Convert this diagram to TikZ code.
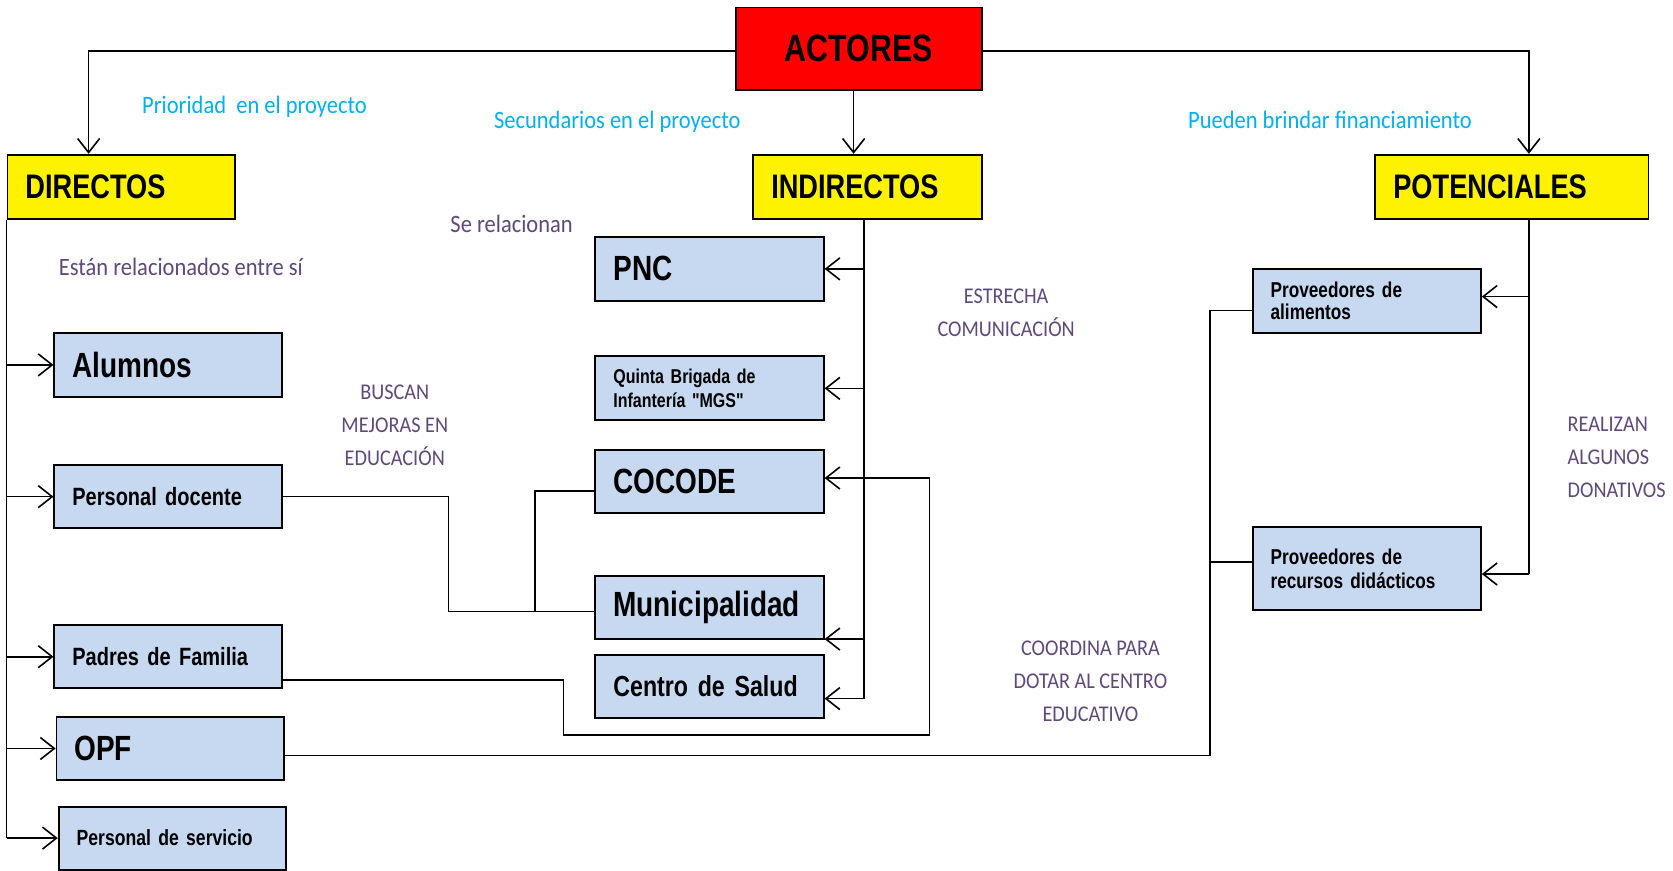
\documentclass[tikz,border=0pt]{standalone}
\usepackage{fontspec}
\setmainfont{Liberation Sans}
\newfontfamily\boxfont[FakeStretch=0.8]{Liberation Sans}
\newfontfamily\labfont[FakeStretch=0.9]{Carlito}
\usetikzlibrary{arrows.meta}
\definecolor{boxblue}{HTML}{C6D9F1}
\definecolor{cyanlab}{HTML}{00B0F0}
\definecolor{purplab}{HTML}{5F497A}
\newcommand\fs[2]{\fontsize{#1}{#2}\selectfont}
\begin{document}
\begin{tikzpicture}[x=1.06696pt, y=-1.06696pt,
  box/.style={draw=black, line width=1.8pt, fill=boxblue, inner xsep=18pt, inner ysep=0pt, align=left},
  bsize/.style 2 args={font=\boxfont\bfseries\fs{#1}{#2}},
  head/.style={box, fill=yellow},
  con/.style={line width=1.6pt},
  arr/.style={con, -{Straight Barb[length=14pt,width=22pt]}},
  cyanl/.style={text=cyanlab, font=\labfont\fs{25}{30}},
  purl/.style={text=purplab, font=\labfont\fs{25}{30}},
  capl/.style={text=purplab, font=\labfont\fs{22.5}{33}, align=center}]
\useasboundingbox[fill=white] (0,0) rectangle (1568,816);

% heads
\node[box, fill=red, align=center, bsize={38}{42}, text width=209.4pt, minimum height=82.2pt] (actores) at (805,45.5) {ACTORES};
\node[head, bsize={34}{38}, text width=191.3pt, minimum height=64pt] (directos) at (113.5,175) {DIRECTOS};
\node[head, bsize={34}{38}, text width=192.3pt, minimum height=64pt] (indirectos) at (813,175) {INDIRECTOS};
\node[head, bsize={34}{38}, text width=237.1pt, minimum height=64pt] (potenciales) at (1417,175) {POTENCIALES};

% directos children
\node[box, bsize={35}{40}, text width=191.3pt, minimum height=64pt] (alumnos) at (157.5,342) {Alumnos};
\node[box, bsize={25}{30}, text width=191.3pt, minimum height=63pt] (docente) at (157.5,465.5) {Personal docente};
\node[box, bsize={25}{30}, text width=191.3pt, minimum height=63pt] (padres) at (157.5,615.5) {Padres de Familia};
\node[box, bsize={35}{40}, text width=191.3pt, minimum height=63pt] (opf) at (159.5,701.5) {OPF};
\node[box, bsize={22}{26}, text width=191.3pt, minimum height=63pt] (servicio) at (161.5,785.5) {Personal de servicio};

% indirectos children
\node[box, bsize={35}{40}, text width=192.3pt, minimum height=64pt] (pnc) at (665,252) {PNC};
\node[box, bsize={20}{23.5}, text width=192.3pt, minimum height=64pt] (quinta) at (665,364) {Quinta Brigada de\\Infantería "MGS"};
\node[box, bsize={35}{40}, text width=192.3pt, minimum height=63pt] (cocode) at (665,451.5) {COCODE};
\node[box, bsize={35}{40}, text width=192.3pt, minimum height=63pt] (muni) at (665,569.5) {Municipalidad};
\node[box, bsize={29}{33}, text width=192.3pt, minimum height=63pt] (centro) at (665,643.5) {Centro de Salud};

% potenciales children
\node[box, bsize={21.5}{22}, text width=192.3pt, minimum height=64pt] (provA) at (1281,282) {Proveedores de\\alimentos};
\node[box, bsize={21.5}{23.5}, text width=192.3pt, minimum height=83.2pt] (provR) at (1281,533) {Proveedores de\\recursos didácticos};

% labels
\node[cyanl] (l1) at (238.5,100) {Prioridad\ \ en el proyecto};
\node[cyanl] (l2) at (578.5,114) {Secundarios en el proyecto};
\node[cyanl] (l3) at (1246.5,112) {Pueden brindar financiamiento};
\node[purl] (l4) at (169.5,250) {Están relacionados entre sí};
\node[purl] (l5) at (479.5,210) {Se relacionan};
\node[capl] (l6) at (370,399) {BUSCAN\\MEJORAS EN\\EDUCACIÓN};
\node[capl] (l7) at (943,293) {ESTRECHA\\COMUNICACIÓN};
\node[capl, align=left, anchor=west] (l8) at (1466,429) {REALIZAN\\ALGUNOS\\DONATIVOS};
\node[capl] (l9) at (1022,638.5) {COORDINA PARA\\DOTAR AL CENTRO\\EDUCATIVO};

% actores connectors
\draw[arr] ([yshift=-2.7pt]actores.west) -| ([xshift=-32.5pt]directos.north);
\draw[arr] ([yshift=-2.7pt]actores.east) -| ([xshift=17pt]potenciales.north);
\coordinate (adown) at ([xshift=-5.3pt]actores.south);
\draw[arr] (adown) -- (adown |- indirectos.north);

% directos trunk
\draw[con] (directos.south west) -- (directos.south west |- servicio.west);
\foreach \n in {alumnos,docente,padres,opf,servicio}
  \draw[arr] (directos.south west |- \n.west) -- (\n.west);

% indirectos trunk
\coordinate (itrunk) at ([xshift=-3.2pt]indirectos.south);
\coordinate (centroArr) at ([yshift=-12pt]centro.east);
\coordinate (muniArr) at ([yshift=1pt]muni.south east);
\draw[con] (itrunk) -- (itrunk |- centroArr);
\draw[arr] (itrunk |- pnc.east) -- (pnc.east);
\draw[arr] (itrunk |- quinta.east) -- (quinta.east);
\draw[arr] (itrunk |- muniArr) -- (muniArr);
\draw[arr] (itrunk |- centroArr) -- (centroArr);

% padres -> cocode
\coordinate (padresOut) at ([yshift=-23pt]padres.east);
\coordinate (cocodeArr) at ([yshift=3.7pt]cocode.east);
\draw[arr] (padresOut) -| (528,689) -- (871,689) |- (cocodeArr);

% docente -> municipalidad / cocode
\coordinate (muniIn) at ([yshift=-3.7pt]muni.west);
\draw[con] (docente.east) -| ([xshift=-146pt]muniIn) -- (muniIn);
\draw[con] ([xshift=-59.7pt]muniIn) |- ([yshift=-9pt]cocode.west);

% opf -> proveedores
\coordinate (opfOut) at ([yshift=-7pt]opf.east);
\coordinate (provAin) at ([yshift=-9.6pt]provA.west);
\coordinate (provRin) at ([yshift=6.4pt]provR.west);
\draw[con] (opfOut) -| ([xshift=-41.6pt]provAin) -- (provAin);
\draw[con] ([xshift=-41.6pt]provRin) -- (provRin);

% potenciales trunk
\coordinate (ptrunk) at ([xshift=17pt]potenciales.south);
\coordinate (provAArr) at ([yshift=4.3pt]provA.east);
\coordinate (provRArr) at ([yshift=-5.3pt]provR.east);
\draw[con] (ptrunk) -- (ptrunk |- provRArr);
\draw[arr] (ptrunk |- provAArr) -- (provAArr);
\draw[arr] (ptrunk |- provRArr) -- (provRArr);
\end{tikzpicture}
\end{document}
